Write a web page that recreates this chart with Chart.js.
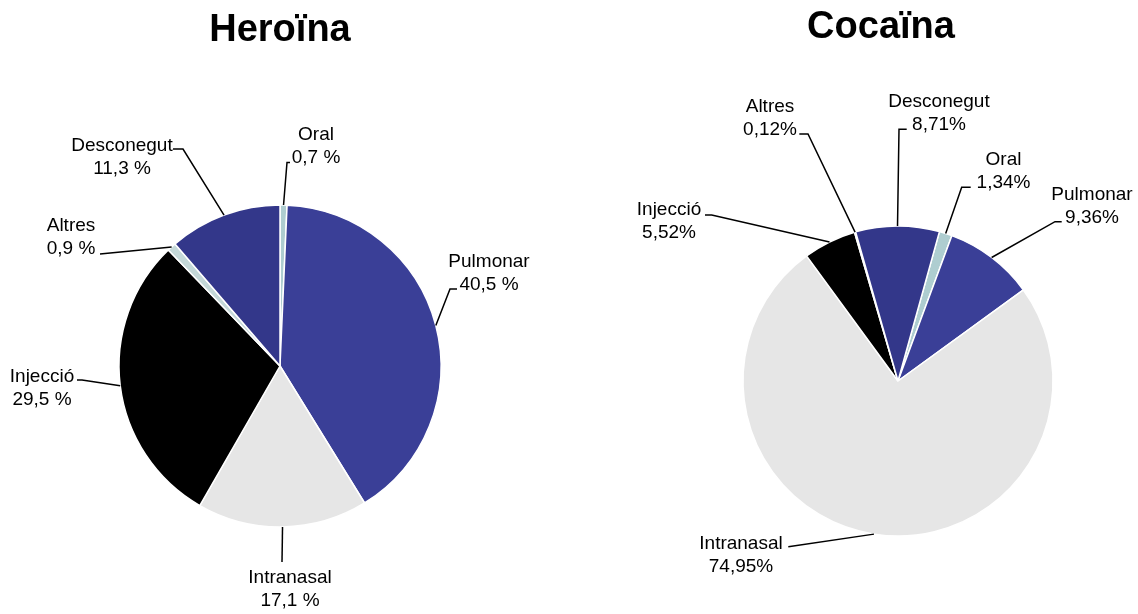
<!DOCTYPE html>
<html>
<head>
<meta charset="utf-8">
<script src="https://cdn.jsdelivr.net/npm/chart.js@4.4.1/dist/chart.umd.min.js"></script>
<style>
  body { margin: 0; background: #fff; }
  #wrap { position: relative; width: 1138px; height: 614px; overflow: hidden; }
  canvas { position: absolute; top: 0; }
</style>
</head>
<body>
<div id="wrap">
  <canvas id="heroChart" width="569" height="614" style="left:0"></canvas>
  <canvas id="cocaChart" width="569" height="614" style="left:569px"></canvas>
</div>
<script>
  // ===== Dades =====
  const categories = ["Oral", "Pulmonar", "Intranasal", "Injecció", "Altres", "Desconegut"];
  const heroValues = [0.7, 40.5, 17.1, 29.5, 0.9, 11.3];
  const heroText = ["0,7 %", "40,5 %", "17,1 %", "29,5 %", "0,9 %", "11,3 %"];
  const cocaValues = [1.34, 9.36, 74.95, 5.52, 0.12, 8.71];
  const cocaText = ["1,34%", "9,36%", "74,95%", "5,52%", "0,12%", "8,71%"];

  const sliceColors = ["#aecdd0", "#3a3f97", "#e6e6e6", "#000000", "#c4d8d8", "#33378a"];

  // posicio de les etiquetes respecte al centre del pastis: text [dx, dy] i linia guia
  const heroPlace = [
    { t: [36, -226], l: [[7, -203.5], [10, -203.5]] },
    { t: [209, -99], l: [[170, -77], [177, -77]] },
    { t: [10, 217], l: [[2, 196]] },
    { t: [-238, 15.7], l: [[-198, 14], [-203, 14]] },
    { t: [-209, -135], l: [[-180, -112]] },
    { t: [-158, -215.3], l: [[-97, -217], [-107, -217]] }
  ];
  const cocaPlace = [
    { t: [105.5, -216], l: [[63.7, -193.7], [72.7, -193.7]] },
    { t: [194, -181], l: [[157, -159.3], [163.7, -159.3]] },
    { t: [-157, 168], l: [[-109.7, 165.7]] },
    { t: [-229, -166], l: [[-186.3, -166], [-193, -166]] },
    { t: [-128, -269.3], l: [[-90, -247], [-98.7, -247]] },
    { t: [41, -274], l: [[1, -251.7], [8.7, -251.7]] }
  ];

  const FONT = '19px "Liberation Sans", Arial, sans-serif';

  // ===== Plugin: titol + etiquetes amb linia guia =====
  const labelPlugin = {
    id: "pieLabels",
    afterDraw(chart, args, opts) {
      const ctx = chart.ctx;
      const arcs = chart.getDatasetMeta(0).data;
      ctx.save();
      ctx.fillStyle = "#000";
      ctx.textAlign = "center";
      ctx.textBaseline = "alphabetic";
      ctx.font = 'bold 38px "Liberation Sans", Arial, sans-serif';
      ctx.fillText(opts.title, opts.titleX, opts.titleY);

      ctx.font = FONT;
      ctx.strokeStyle = "#000";
      ctx.lineWidth = 1.5;
      arcs.forEach((arc, i) => {
        const p = opts.place[i];
        const a = (arc.startAngle + arc.endAngle) / 2;
        const cx = arc.x, cy = arc.y;
        ctx.beginPath();
        ctx.moveTo(cx + arc.outerRadius * Math.cos(a), cy + arc.outerRadius * Math.sin(a));
        p.l.forEach(pt => ctx.lineTo(cx + pt[0], cy + pt[1]));
        ctx.stroke();
        ctx.fillText(chart.data.labels[i], cx + p.t[0], cy + p.t[1]);
        ctx.fillText(opts.text[i], cx + p.t[0], cy + p.t[1] + 23);
      });
      ctx.restore();
    }
  };

  function makePie(id, values, text, place, rotation, radius, padding, title, titleX, titleY) {
    return new Chart(document.getElementById(id), {
      type: "pie",
      data: {
        labels: categories,
        datasets: [{
          data: values,
          backgroundColor: sliceColors,
          borderColor: "#ffffff",
          borderWidth: 1.5,
          hoverBorderWidth: 1.5,
          hoverOffset: 0
        }]
      },
      options: {
        responsive: false,
        animation: false,
        rotation: rotation,
        radius: radius,
        layout: { padding: padding },
        events: [],
        plugins: {
          legend: { display: false },
          tooltip: { enabled: false },
          pieLabels: { place: place, text: text, title: title, titleX: titleX, titleY: titleY }
        }
      },
      plugins: [labelPlugin]
    });
  }

  makePie("heroChart", heroValues, heroText, heroPlace, 0, 161,
    { left: 119, right: 128, top: 205, bottom: 87 }, "Heroïna", 280, 41);
  makePie("cocaChart", cocaValues, cocaText, cocaPlace, 15.5, 155,
    { left: 174, right: 85, top: 226, bottom: 78 }, "Cocaïna", 312, 38);
</script>
</body>
</html>
